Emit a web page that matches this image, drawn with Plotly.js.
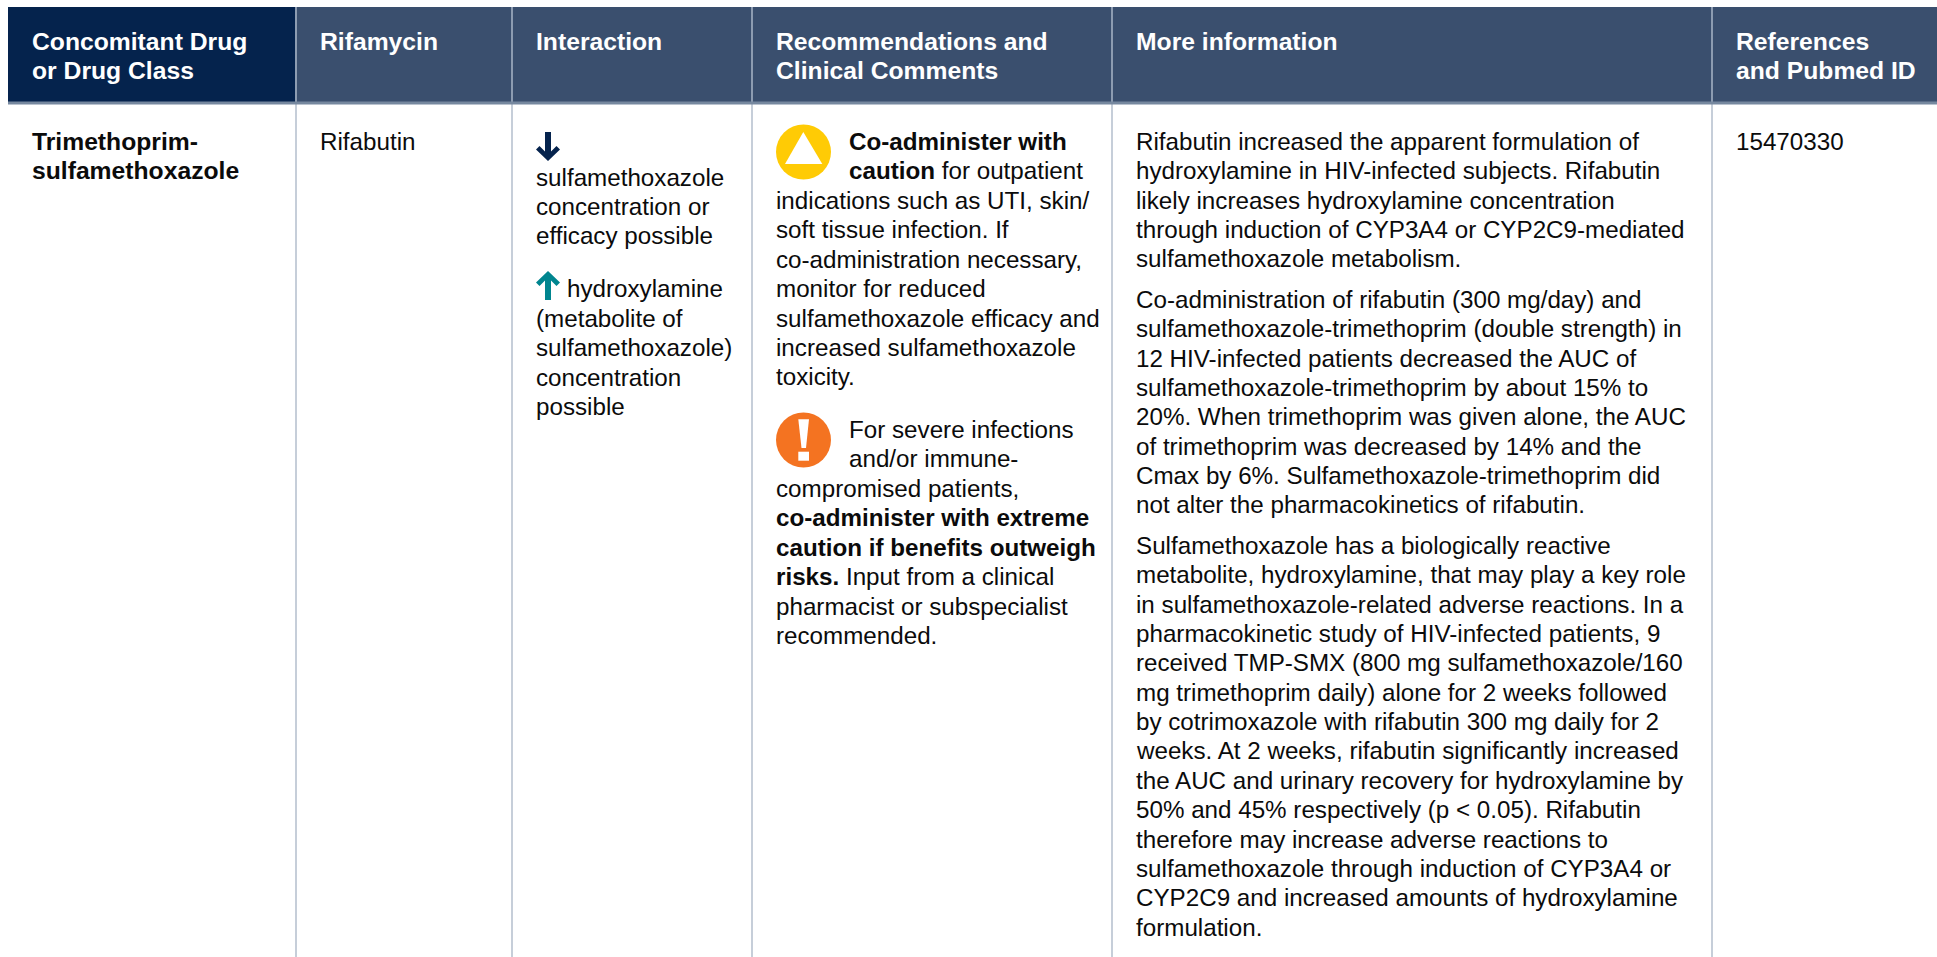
<!DOCTYPE html>
<html>
<head>
<meta charset="utf-8">
<script src="https://cdn.plot.ly/plotly-3.0.1.min.js"></script>
<style>html,body{margin:0;padding:0;background:#fff;overflow:hidden}#chart{width:1937px;height:957px}</style>
</head>
<body>
<div id="chart"></div>
<script>
// ---- table content ----
const headerCol1 = ["Concomitant Drug", "or Drug Class"];
const headerCol2 = ["Rifamycin"];
const headerCol3 = ["Interaction"];
const headerCol4 = ["Recommendations and", "Clinical Comments"];
const headerCol5 = ["More information"];
const headerCol6 = ["References", "and Pubmed ID"];

const drugLines = ["<b>Trimethoprim-</b>", "<b>sulfamethoxazole</b>"];
const rifamycinLines = ["Rifabutin"];
const interactionDown = ["sulfamethoxazole", "concentration or", "efficacy possible"];
const interactionUpFirst = ["hydroxylamine"];
const interactionUpRest = ["(metabolite of", "sulfamethoxazole)", "concentration", "possible"];
const cautionIndented = ["<b>Co-administer with</b>", "<b>caution</b> for outpatient"];
const cautionRest = ["indications such as UTI, skin/", "soft tissue infection. If", "co-administration necessary,",
  "monitor for reduced", "sulfamethoxazole efficacy and", "increased sulfamethoxazole", "toxicity."];
const extremeIndented = ["For severe infections", "and/or immune-"];
const extremeRest = ["compromised patients,", "<b>co-administer with extreme</b>", "<b>caution if benefits outweigh</b>",
  "<b>risks.</b> Input from a clinical", "pharmacist or subspecialist", "recommended."];
const infoPara1 = ["Rifabutin increased the apparent formulation of", "hydroxylamine in HIV-infected subjects. Rifabutin",
  "likely increases hydroxylamine concentration", "through induction of CYP3A4 or CYP2C9-mediated", "sulfamethoxazole metabolism."];
const infoPara2 = ["Co-administration of rifabutin (300 mg/day) and", "sulfamethoxazole-trimethoprim (double strength) in",
  "12 HIV-infected patients decreased the AUC of", "sulfamethoxazole-trimethoprim by about 15% to",
  "20%. When trimethoprim was given alone, the AUC", "of trimethoprim was decreased by 14% and the",
  "Cmax by 6%. Sulfamethoxazole-trimethoprim did", "not alter the pharmacokinetics of rifabutin."];
const infoPara3 = ["Sulfamethoxazole has a biologically reactive", "metabolite, hydroxylamine, that may play a key role",
  "in sulfamethoxazole-related adverse reactions. In a", "pharmacokinetic study of HIV-infected patients, 9",
  "received TMP-SMX (800 mg sulfamethoxazole/160", "mg trimethoprim daily) alone for 2 weeks followed",
  "by cotrimoxazole with rifabutin 300 mg daily for 2", "weeks. At 2 weeks, rifabutin significantly increased",
  "the AUC and urinary recovery for hydroxylamine by", "50% and 45% respectively (p &lt; 0.05). Rifabutin",
  "therefore may increase adverse reactions to", "sulfamethoxazole through induction of CYP3A4 or",
  "CYP2C9 and increased amounts of hydroxylamine", "formulation."];
const referenceLines = ["15470330"];

// ---- layout constants ----
const FONT = '"Liberation Sans", Arial, sans-serif';
const BODY_SIZE = 24.2, HEAD_SIZE = 24.7, LH = 29.35, BASE_OFF = 8;
const annotations = [];
function block(lines, x, baseline, color, size) {
  lines.forEach((t, i) => annotations.push({
    text: t, x: x, y: baseline + i * LH - BASE_OFF, xref: 'x', yref: 'y', xanchor: 'left', yanchor: 'middle',
    showarrow: false, align: 'left', borderpad: 0, borderwidth: 0,
    font: {family: FONT, size: size || BODY_SIZE, color: color || '#0b0b0b'}
  }));
}
const bold = a => a.map(s => '<b>' + s + '</b>');
block(bold(headerCol1), 31.5, 49.2, '#fff', HEAD_SIZE);
block(bold(headerCol2), 319.5, 49.2, '#fff', HEAD_SIZE);
block(bold(headerCol3), 535.5, 49.2, '#fff', HEAD_SIZE);
block(bold(headerCol4), 775.5, 49.2, '#fff', HEAD_SIZE);
block(bold(headerCol5), 1135.5, 49.2, '#fff', HEAD_SIZE);
block(bold(headerCol6), 1735.5, 49.2, '#fff', HEAD_SIZE);
block(drugLines, 31.5, 149.4, '#0b0b0b', HEAD_SIZE);
block(rifamycinLines, 319.5, 149.4);
block(interactionDown, 535.5, 185);
block(interactionUpFirst, 566.5, 296.6);
block(interactionUpRest, 535.5, 326.5);
block(cautionIndented, 848.5, 149.6);
block(cautionRest, 775.5, 208.6);
block(extremeIndented, 848.5, 437.4);
block(extremeRest, 775.5, 496.6);
block(infoPara1, 1135.5, 149.5);
block(infoPara2, 1135.5, 307.5);
block(infoPara3, 1135.5, 553.5);
block(referenceLines, 1735.5, 149.4);

const rect = (x0, y0, x1, y1, c) => ({type:'rect', x0, y0, x1, y1, xref:'x', yref:'y', fillcolor:c, line:{width:0}, layer:'below'});
const poly = (path, c) => ({type:'path', path, xref:'x', yref:'y', fillcolor:c, line:{width:0}, layer:'above'});
const circle = (cx, cy, r, c) => ({type:'circle', x0:cx-r, x1:cx+r, y0:cy-r, y1:cy+r, xref:'x', yref:'y', fillcolor:c, line:{width:0}, layer:'above'});
const NAVY = '#05234d', SLATE = '#3a4f6e', GRID = '#c6ced9', HEADSEP = '#8d9cb1', BAND = '#76889f';
const colLines = [296, 512, 752, 1112, 1712];
const shapes = [
  rect(8, 7, 296, 102, NAVY),
  rect(296, 7, 1937, 102, SLATE),
  ...colLines.map(x => rect(x - 1, 7, x + 1, 102, HEADSEP)),
  ...colLines.map(x => rect(x - 1, 104, x + 1, 957, GRID)),
  rect(8, 101.5, 1937, 104.5, BAND),
  // down arrow
  poly('M545,132 L551,132 L551,151.5 L556.5,146 L560,149.5 L548,161 L536,149.5 L539.5,146 L545,151.5 Z', NAVY),
  // up arrow
  poly('M545,300 L551,300 L551,280.5 L556.5,286 L560,282.5 L548,271 L536,282.5 L539.5,286 L545,280.5 Z', '#00858f'),
  // caution icon
  circle(803.5, 152, 27.5, '#ffcb05'),
  poly('M803.3,132 L822.3,164 L785,164 Z', '#ffffff'),
  // warning icon
  circle(803.5, 440, 27.5, '#f47321'),
  poly('M798.3,419.3 L809,419.3 L806,448 L801.5,448 Z', '#ffffff'),
  poly('M798.3,451.7 L809,451.7 L809,460.7 L798.3,460.7 Z', '#ffffff')
];

Plotly.newPlot('chart', [], {
  width: 1937, height: 957, margin: {l:0, r:0, t:0, b:0, pad:0},
  paper_bgcolor: '#fff', plot_bgcolor: '#fff', showlegend: false,
  xaxis: {range:[0,1937], visible:false, fixedrange:true},
  yaxis: {range:[957,0], visible:false, fixedrange:true},
  shapes, annotations
}, {displayModeBar:false, staticPlot:true});
</script>
</body>
</html>
